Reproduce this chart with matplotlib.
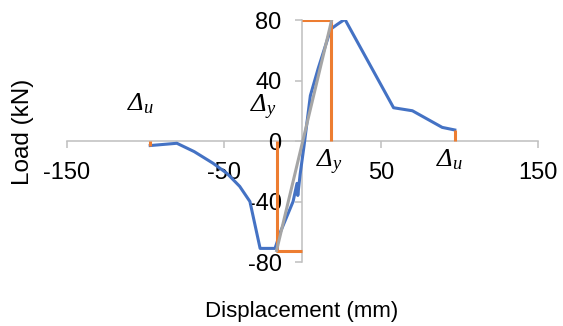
import matplotlib
matplotlib.use("Agg")
import matplotlib.pyplot as plt

plt.rcParams['font.family'] = ['Liberation Sans', 'DejaVu Sans']
plt.rcParams['axes.unicode_minus'] = False
plt.rcParams['mathtext.fontset'] = 'custom'
# Greek capitals are drawn from the 'rm' slot, so make it italic too
plt.rcParams['mathtext.it'] = 'Liberation Serif:italic'
plt.rcParams['mathtext.rm'] = 'Liberation Serif:italic'

# load-displacement curve (mm, kN)
disp = [-97, -80, -69, -57, -48, -40, -33.5, -27, -17.5, -14, -8, -6, -3.5, -3, -1.5,
        1, 5, 10, 18, 22, 27, 58, 70, 89, 97]
load = [-3, -1.5, -7, -14.7, -21.5, -30, -40, -71, -71, -60, -45, -40, -28, -36, -22,
        -3, 30, 48, 74, 77, 80.5, 22, 20, 9, 7.3]

# bilinear idealisation (yield / ultimate markers)
yield_neg_x = [0, -16.5, -16.5]
yield_neg_y = [-72.4, -72.4, 0]
yield_pos_x = [0, 18.2, 18.2]
yield_pos_y = [80, 80, 0]
ult_neg_x = [-97, -97]
ult_neg_y = [0, -3.2]
ult_pos_x = [97, 97]
ult_pos_y = [7.3, 0]

# initial stiffness line
stiff_x = [-16.5, 18.6]
stiff_y = [-72.4, 80]

xticks = [-150, -50, 50, 150]
yticks = [-80, -40, 0, 40, 80]

blue = '#4472C4'
orange = '#ED7D31'
grey = '#A5A5A5'
axcol = '#BFBFBF'

fig = plt.figure(figsize=(5.63, 3.26), dpi=100)
ax = fig.add_axes([0.119, 0.1963, 0.8366, 0.7423])

ax.plot(disp, load, color=blue, lw=2.2, solid_joinstyle='round', zorder=3)
for xs, ys in [(yield_neg_x, yield_neg_y), (yield_pos_x, yield_pos_y),
               (ult_neg_x, ult_neg_y), (ult_pos_x, ult_pos_y)]:
    ax.plot(xs, ys, color=orange, lw=2.2, solid_capstyle='butt', zorder=4)
ax.plot(stiff_x, stiff_y, color=grey, lw=2.2, zorder=5)

ax.set_xlim(-150, 150)
ax.set_ylim(-80, 80)
ax.set_xticks(xticks)
ax.set_yticks(yticks)

for s in ['top', 'right']:
    ax.spines[s].set_visible(False)
ax.spines['left'].set_position(('data', 0))
ax.spines['bottom'].set_position(('data', 0))
for s in ['left', 'bottom']:
    ax.spines[s].set_color(axcol)
    ax.spines[s].set_linewidth(1.1)
    ax.spines[s].set_zorder(1)

ax.tick_params(axis='x', direction='out', length=5, width=1.1, color=axcol,
               labelsize=17, pad=10)
ax.tick_params(axis='y', direction='out', length=5, width=1.1, color=axcol,
               labelsize=17, pad=10)

lab = dict(fontsize=19, ha='center', va='center')
ax.text(-103, 25, r'$Δ_{u}$', **lab)
ax.text(-25, 22.5, r'$Δ_{y}$', **lab)
ax.text(17.2, -14.5, r'$Δ_{y}$', **lab)
ax.text(93.6, -12.5, r'$Δ_{u}$', **lab)

fig.text(23 / 563, 1 - 132 / 326, 'Load (kN)', rotation=90, fontsize=17.5,
         ha='center', va='center')
fig.text(302 / 563, 1 - 317 / 326, 'Displacement (mm)', fontsize=16,
         ha='center', va='baseline')

fig.savefig('out.png', dpi=100)
